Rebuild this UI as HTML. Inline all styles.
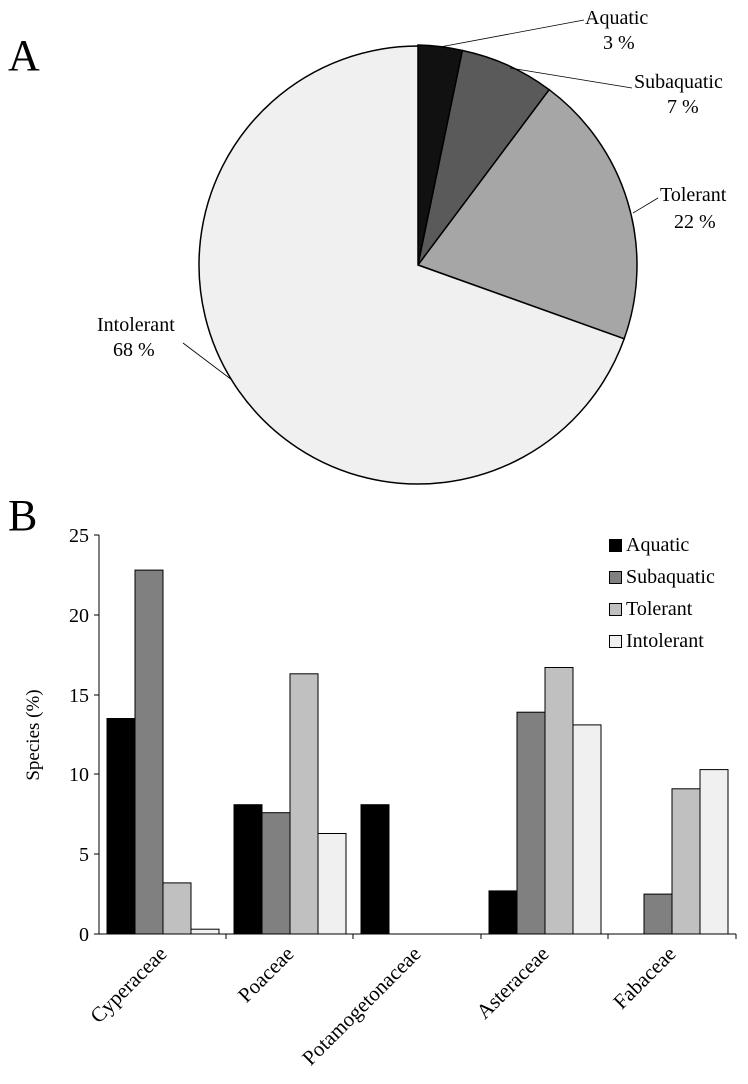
<!DOCTYPE html>
<html><head><meta charset="utf-8"><style>
html,body{margin:0;padding:0;background:#fff;}
svg{display:block;font-family:"Liberation Serif",serif;}
</style></head><body>
<svg width="748" height="1084" viewBox="0 0 748 1084">
<text x="8" y="70" font-size="44">A</text>
<text x="8" y="530" font-size="44">B</text>
<g stroke="#000" stroke-width="1.5">
<path d="M418,265 L418,45 A219,219 0 0 1 462.4,50.5 Z" fill="#111"/>
<path d="M418,265 L462.4,50.5 A219,219 0 0 1 549.2,89.7 Z" fill="#5a5a5a"/>
<path d="M418,265 L549.2,89.7 A219,219 0 0 1 624.2,338.8 Z" fill="#a6a6a6"/>
<path d="M418,265 L624.2,338.8 A219,219 0 1 1 418,46 Z" fill="#f0f0f0"/>
</g>
<g stroke="#000" stroke-width="0.8" fill="none">
<line x1="440" y1="47" x2="584" y2="20"/>
<line x1="510" y1="68" x2="632" y2="88"/>
<line x1="633" y1="213" x2="658" y2="198"/>
<line x1="183" y1="343" x2="232" y2="380"/>
</g>
<g font-size="20">
<text x="585" y="24">Aquatic</text><text x="603" y="49">3 %</text>
<text x="634" y="88">Subaquatic</text><text x="667" y="113">7 %</text>
<text x="660" y="201">Tolerant</text><text x="674" y="228">22 %</text>
<text x="97" y="331">Intolerant</text><text x="113" y="356">68 %</text>
</g>
<g stroke="#000" stroke-width="1">
<line x1="99" y1="535" x2="99" y2="934"/>
<line x1="99" y1="934" x2="736" y2="934"/>
<line x1="94" y1="535" x2="99" y2="535"/><line x1="94" y1="615" x2="99" y2="615"/>
<line x1="94" y1="695" x2="99" y2="695"/><line x1="94" y1="774" x2="99" y2="774"/>
<line x1="94" y1="854" x2="99" y2="854"/><line x1="94" y1="934" x2="99" y2="934"/>
<line x1="226" y1="934" x2="226" y2="939"/><line x1="353" y1="934" x2="353" y2="939"/>
<line x1="481" y1="934" x2="481" y2="939"/><line x1="608" y1="934" x2="608" y2="939"/>
<line x1="736" y1="934" x2="736" y2="939"/>
</g>
<g font-size="20" text-anchor="end">
<text x="89" y="542">25</text><text x="89" y="622">20</text><text x="89" y="702">15</text>
<text x="89" y="781">10</text><text x="89" y="861">5</text><text x="89" y="941">0</text>
</g>
<text transform="translate(39,735) rotate(-90)" font-size="19" text-anchor="middle">Species (%)</text>
<g stroke="#000" stroke-width="1">
<rect x="107" y="718.5" width="28" height="215.5" fill="#000"/>
<rect x="135" y="570.1" width="28" height="363.9" fill="#808080"/>
<rect x="163" y="882.9" width="28" height="51.1" fill="#c0c0c0"/>
<rect x="191" y="929.2" width="28" height="4.8" fill="#f0f0f0"/>
<rect x="234" y="804.7" width="28" height="129.3" fill="#000"/>
<rect x="262" y="812.7" width="28" height="121.3" fill="#808080"/>
<rect x="290" y="673.8" width="28" height="260.2" fill="#c0c0c0"/>
<rect x="318" y="833.5" width="28" height="100.5" fill="#f0f0f0"/>
<rect x="361" y="804.7" width="28" height="129.3" fill="#000"/>
<rect x="489" y="890.9" width="28" height="43.1" fill="#000"/>
<rect x="517" y="712.2" width="28" height="221.8" fill="#808080"/>
<rect x="545" y="667.5" width="28" height="266.5" fill="#c0c0c0"/>
<rect x="573" y="724.9" width="28" height="209.1" fill="#f0f0f0"/>
<rect x="644" y="894.1" width="28" height="39.9" fill="#808080"/>
<rect x="672" y="788.8" width="28" height="145.2" fill="#c0c0c0"/>
<rect x="700" y="769.6" width="28" height="164.4" fill="#f0f0f0"/>
</g>
<g stroke="#000" stroke-width="1">
<rect x="609.5" y="539.5" width="12" height="12" fill="#000"/>
<rect x="609.5" y="571.5" width="12" height="12" fill="#808080"/>
<rect x="609.5" y="603.5" width="12" height="12" fill="#c0c0c0"/>
<rect x="609.5" y="635.5" width="12" height="12" fill="#f0f0f0"/>
</g>
<g font-size="20">
<text x="626" y="551">Aquatic</text><text x="626" y="583">Subaquatic</text>
<text x="626" y="615">Tolerant</text><text x="626" y="647">Intolerant</text>
</g>
<g font-size="21" text-anchor="end">
<text transform="translate(168,955) rotate(-45)">Cyperaceae</text>
<text transform="translate(295,955) rotate(-45)">Poaceae</text>
<text transform="translate(422,955) rotate(-45)">Potamogetonaceae</text>
<text transform="translate(550,955) rotate(-45)">Asteraceae</text>
<text transform="translate(677,955) rotate(-45)">Fabaceae</text>
</g>
</svg>
</body></html>
